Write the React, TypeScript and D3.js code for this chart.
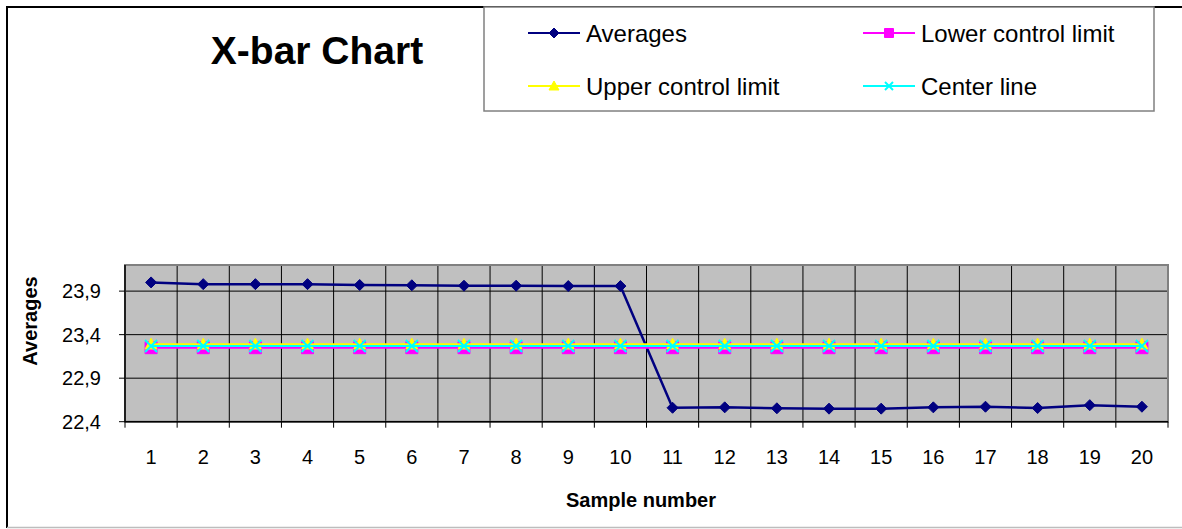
import * as d3 from 'd3';
import * as React from 'react';

const width = 1182;
const height = 529;
const plot = { left: 125, right: 1168, top: 265, bottom: 421.7 };
const font = '"Liberation Sans", Arial, sans-serif';

const samples = ['1', '2', '3', '4', '5', '6', '7', '8', '9', '10', '11', '12', '13', '14', '15', '16', '17', '18', '19', '20'];

const averages = [
  24.0, 23.98, 23.98, 23.98, 23.97, 23.967, 23.962, 23.962, 23.958, 23.958,
  22.56, 22.565, 22.554, 22.55, 22.55, 22.565, 22.572, 22.557, 22.59, 22.572,
];
const lowerLimit = [
  23.25, 23.25, 23.25, 23.25, 23.25, 23.25, 23.25, 23.25, 23.25, 23.25,
  23.25, 23.25, 23.25, 23.25, 23.25, 23.25, 23.25, 23.25, 23.25, 23.25,
];
const upperLimit = [
  23.29, 23.29, 23.29, 23.29, 23.29, 23.29, 23.29, 23.29, 23.29, 23.29,
  23.29, 23.29, 23.29, 23.29, 23.29, 23.29, 23.29, 23.29, 23.29, 23.29,
];
const centerLine = [
  23.27, 23.27, 23.27, 23.27, 23.27, 23.27, 23.27, 23.27, 23.27, 23.27,
  23.27, 23.27, 23.27, 23.27, 23.27, 23.27, 23.27, 23.27, 23.27, 23.27,
];

const yTicks = [22.4, 22.9, 23.4, 23.9];
const yDomain = [22.4, 24.2];

type Marker = 'diamond' | 'square' | 'triangle' | 'cross';

type Series = {
  name: string;
  values: number[];
  color: string;
  marker: Marker;
  lineWidth: number;
};

const series: Series[] = [
  { name: 'Averages', values: averages, color: '#000080', marker: 'diamond', lineWidth: 2.5 },
  { name: 'Lower control limit', values: lowerLimit, color: '#FF00FF', marker: 'square', lineWidth: 2 },
  { name: 'Upper control limit', values: upperLimit, color: '#FFFF00', marker: 'triangle', lineWidth: 2 },
  { name: 'Center line', values: centerLine, color: '#00FFFF', marker: 'cross', lineWidth: 2 },
];

// marker path centred on 0,0 with half-size r
const markerPath = (m: Marker, r: number) => {
  const p = d3.path();
  if (m === 'diamond') {
    p.moveTo(0, -r);
    p.lineTo(r, 0);
    p.lineTo(0, r);
    p.lineTo(-r, 0);
    p.closePath();
  } else if (m === 'square') {
    p.rect(-r, -r, 2 * r, 2 * r);
  } else if (m === 'triangle') {
    p.moveTo(0, -r);
    p.lineTo(r, r * 0.8);
    p.lineTo(-r, r * 0.8);
    p.closePath();
  } else {
    p.moveTo(-r, -r);
    p.lineTo(r, r);
    p.moveTo(r, -r);
    p.lineTo(-r, r);
  }
  return p.toString();
};

const MarkerShape = ({ m, r, color, x, y }: { m: Marker; r: number; color: string; x: number; y: number }) =>
  m === 'cross' ? (
    <path d={markerPath(m, r)} transform={`translate(${x},${y})`} fill="none" stroke={color} strokeWidth={2} />
  ) : (
    <path d={markerPath(m, r)} transform={`translate(${x},${y})`} fill={color} stroke={color} strokeWidth={1} />
  );

const fmt = (v: number) => d3.format('.1f')(v).replace('.', ',');

export default function App() {
  const x = d3.scaleBand<string>().domain(samples).range([plot.left, plot.right]).padding(0);
  const y = d3.scaleLinear().domain(yDomain).range([plot.bottom, plot.top]);
  const cx = (s: string) => (x(s) as number) + x.bandwidth() / 2;

  const line = d3
    .line<number>()
    .x((d, i) => cx(samples[i]))
    .y(d => y(d));

  const boundaries = samples.map(s => x(s) as number).concat([plot.right]);

  const markerSize: Record<Marker, number> = { diamond: 5.5, square: 6, triangle: 6, cross: 6 };
  const legendSize: Record<Marker, number> = { diamond: 5, square: 4.5, triangle: 5, cross: 4 };

  return (
    <svg
      width={width}
      height={height}
      style={{ position: 'absolute', left: 0, top: 0, background: '#fff' }}
      fontFamily={font}
    >
      {/* chart frame */}
      <line x1={7} y1={7} x2={width} y2={7} stroke="#000" strokeWidth={2} />
      <line x1={7} y1={6} x2={7} y2={528} stroke="#000" strokeWidth={2} />
      <line x1={7} y1={527.5} x2={width} y2={527.5} stroke="#bdbdbd" strokeWidth={1.5} />

      {/* title */}
      <text x={317} y={64} textAnchor="middle" fontSize={39} fontWeight="bold" fill="#000">
        X-bar Chart
      </text>

      {/* legend */}
      <rect x={484} y={7} width={670} height={104} fill="#fff" stroke="#808080" strokeWidth={1.5} />
      {series.map((s, i) => {
        const lx = 528 + (i % 2) * 335;
        const ly = 33 + Math.floor(i / 2) * 53;
        return (
          <g key={s.name}>
            <line x1={lx} y1={ly} x2={lx + 52} y2={ly} stroke={s.color} strokeWidth={2} />
            <MarkerShape m={s.marker} r={legendSize[s.marker]} color={s.color} x={lx + 26} y={ly} />
            <text x={lx + 58} y={ly + 9} fontSize={24} fill="#000">
              {s.name}
            </text>
          </g>
        );
      })}

      {/* plot area */}
      <rect
        x={plot.left}
        y={plot.top}
        width={plot.right - plot.left}
        height={plot.bottom - plot.top}
        fill="#C0C0C0"
      />
      {yTicks.slice(1).map(t => (
        <line key={t} x1={plot.left} x2={plot.right} y1={y(t)} y2={y(t)} stroke="#000" strokeWidth={1} />
      ))}
      {boundaries.slice(1, -1).map((b, i) => (
        <line key={i} x1={b} x2={b} y1={plot.top} y2={plot.bottom} stroke="#000" strokeWidth={1} />
      ))}
      <rect
        x={plot.left}
        y={plot.top}
        width={plot.right - plot.left}
        height={plot.bottom - plot.top}
        fill="none"
        stroke="#808080"
        strokeWidth={2}
      />

      {/* axes */}
      <line x1={plot.left} x2={plot.right} y1={plot.bottom} y2={plot.bottom} stroke="#000" strokeWidth={1.5} />
      <line x1={plot.left} x2={plot.left} y1={plot.top} y2={plot.bottom} stroke="#000" strokeWidth={1.5} />
      {boundaries.map((b, i) => (
        <line key={i} x1={b} x2={b} y1={plot.bottom} y2={plot.bottom + 6} stroke="#000" strokeWidth={1} />
      ))}
      {yTicks.map(t => (
        <g key={t}>
          <line x1={plot.left - 6} x2={plot.left} y1={y(t)} y2={y(t)} stroke="#000" strokeWidth={1} />
          <text x={101} y={y(t) + 7} textAnchor="end" fontSize={20} fill="#000">
            {fmt(t)}
          </text>
        </g>
      ))}
      {samples.map(s => (
        <text key={s} x={cx(s)} y={464} textAnchor="middle" fontSize={20} fill="#000">
          {s}
        </text>
      ))}
      <text x={641} y={507} textAnchor="middle" fontSize={20} fontWeight="bold" fill="#000">
        Sample number
      </text>
      <text
        transform="translate(37,321) rotate(-90)"
        textAnchor="middle"
        fontSize={20}
        fontWeight="bold"
        fill="#000"
      >
        Averages
      </text>

      {/* series */}
      {series.map(s => (
        <g key={s.name}>
          <path d={line(s.values) as string} fill="none" stroke={s.color} strokeWidth={s.lineWidth} />
          {s.values.map((v, i) => (
            <MarkerShape key={i} m={s.marker} r={markerSize[s.marker]} color={s.color} x={cx(samples[i])} y={y(v)} />
          ))}
        </g>
      ))}
    </svg>
  );
}
